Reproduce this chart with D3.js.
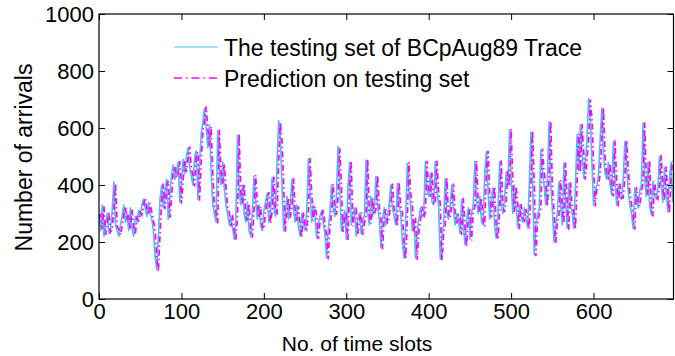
<!DOCTYPE html>
<html>
<head>
<meta charset="utf-8">
<script src="https://cdn.jsdelivr.net/npm/d3@7"></script>
<style>
  html, body { margin: 0; padding: 0; background: #fff; }
  svg { display: block; font-family: "Liberation Sans", Arial, sans-serif; }
</style>
</head>
<body>
<svg id="chart" width="675" height="356"></svg>
<script>
// ---- data (one value every 2 time slots) ----
const timeStep = 2;
const testingSet = [
300,240,330,220,270,300,230,250,310,410,260,240,220,260,290,
330,270,300,240,320,250,220,290,270,310,290,330,350,320,290,
340,300,280,240,150,105,220,350,400,320,380,420,280,360,440,
470,420,450,480,340,410,490,440,500,530,460,430,400,500,520,
350,480,580,620,670,600,530,610,450,330,300,270,590,450,400,
480,390,330,300,260,290,250,210,280,575,380,330,400,300,270,
340,240,220,300,430,350,280,330,260,240,310,340,370,270,300,
425,320,290,480,625,560,400,240,300,360,280,330,420,310,270,
330,250,220,300,260,240,310,490,380,270,330,290,215,260,290,
310,270,230,145,240,300,400,320,290,360,535,400,240,280,310,
210,390,480,260,300,320,220,280,300,230,260,300,488,300,260,
360,290,320,430,330,280,180,280,320,260,290,330,400,320,290,
260,406,330,300,200,143,270,476,380,330,240,280,143,230,280,
320,290,300,482,380,360,440,340,330,482,380,330,140,220,260,
423,300,280,330,400,310,260,300,280,230,350,260,190,280,320,
210,300,330,482,340,300,360,270,260,445,517,380,280,350,390,
250,213,300,482,330,300,350,445,400,593,420,300,400,330,250,
330,290,270,320,280,250,400,587,420,155,260,300,310,523,450,
400,330,420,622,400,318,200,260,300,412,330,260,476,340,248,
406,330,300,248,400,575,450,610,520,424,482,560,704,640,480,
330,380,400,435,560,669,505,440,420,480,400,365,552,420,330,
400,360,350,420,552,470,380,330,300,248,388,350,320,380,400,
617,420,360,480,330,295,410,360,355,390,500,400,340,460,380,
306,420,480,340
];
const prediction = [
285,295,245,325,225,265,305,235,245,315,405,255,245,225,255,
295,325,275,295,245,315,255,225,285,275,305,295,325,355,315,
295,335,305,275,245,145,96,225,345,405,315,385,415,285,355,
445,465,425,445,485,335,415,485,445,495,535,455,435,395,505,
515,345,485,585,625,675,595,535,605,445,325,305,265,595,445,
405,475,395,325,305,255,295,245,205,285,580,375,335,405,295,
275,335,245,215,305,435,345,285,325,255,245,305,345,375,265,
305,430,315,295,485,620,555,405,235,305,355,285,325,425,305,
275,325,255,215,305,255,245,305,495,375,275,325,295,210,265,
285,315,265,225,140,245,295,405,315,295,355,530,405,235,285,
305,205,395,485,255,305,315,225,275,305,225,265,295,490,295,
265,355,295,315,435,325,285,175,285,315,265,285,335,405,315,
295,255,410,325,305,195,140,275,480,375,335,235,285,138,235,
275,325,285,305,485,375,365,445,335,335,485,375,335,135,225,
255,425,295,285,335,405,305,265,295,285,225,355,255,185,285,
315,205,305,325,485,335,305,355,275,255,450,520,375,285,345,
395,245,208,305,487,325,305,345,450,395,598,415,305,395,335,
245,335,285,275,315,285,245,405,590,415,150,265,295,315,528,
445,405,325,425,625,395,313,195,265,295,417,325,265,480,335,
243,411,325,305,243,405,580,445,615,515,419,487,555,700,635,
475,325,385,395,440,565,672,500,435,425,475,395,360,557,415,
325,405,355,355,425,557,465,375,335,295,243,393,345,325,375,
405,620,415,365,485,325,290,415,355,350,395,505,395,345,465,
375,301,425,485
];
const xTicks = [0, 100, 200, 300, 400, 500, 600];
const yTicks = [0, 200, 400, 600, 800, 1000];
const xMax = 697;
const yMax = 1000;
const seriesNames = ["The testing set of BCpAug89 Trace", "Prediction on testing set"];
const seriesColors = ["#4dbdec", "#ff00ff"];

// ---- layout ----
const svg = d3.select("#chart");
const L = 99, R = 673.5, T = 14, B = 299;
const x = d3.scaleLinear().domain([0, xMax]).range([L, R]);
const y = d3.scaleLinear().domain([0, yMax]).range([B, T]);
const tickFont = 22, xTitleFont = 21, yTitleFont = 23, legendFont = 23;

svg.append("defs").append("clipPath").attr("id", "clip")
  .append("rect").attr("x", L).attr("y", T).attr("width", R - L).attr("height", B - T);

const line = d3.line()
  .x((d, i) => x(i * timeStep))
  .y(d => y(d));

const plot = svg.append("g").attr("clip-path", "url(#clip)");
plot.append("path").datum(testingSet)
  .attr("fill", "none").attr("stroke", seriesColors[0])
  .attr("stroke-width", 1.6).attr("stroke-linejoin", "round")
  .attr("d", line);
plot.append("path").datum(prediction)
  .attr("fill", "none").attr("stroke", seriesColors[1])
  .attr("stroke-width", 1.7).attr("stroke-dasharray", "6,3,1.5,3")
  .attr("d", line);

// ---- axes (box with inward ticks on all sides) ----
function styleAxis(g, withLabels) {
  g.select(".domain").remove();
  g.selectAll(".tick line").attr("stroke", "#000").attr("stroke-width", 1);
  g.selectAll(".tick text").attr("fill", "#000")
    .style("font-size", tickFont + "px").style("font-family", "'Liberation Sans', Arial, sans-serif");
  if (!withLabels) g.selectAll(".tick text").remove();
}
svg.append("g").attr("transform", `translate(0,${B})`)
  .call(d3.axisBottom(x).tickValues(xTicks).tickSizeInner(-6).tickSizeOuter(0).tickPadding(4).tickFormat(d3.format("d")))
  .call(g => styleAxis(g, true));
svg.append("g").attr("transform", `translate(0,${T})`)
  .call(d3.axisTop(x).tickValues(xTicks).tickSizeInner(-6).tickSizeOuter(0))
  .call(g => styleAxis(g, false));
svg.append("g").attr("transform", `translate(${L},0)`)
  .call(d3.axisLeft(y).tickValues(yTicks).tickSizeInner(-6).tickSizeOuter(0).tickPadding(5).tickFormat(d3.format("d")))
  .call(g => styleAxis(g, true));
svg.append("g").attr("transform", `translate(${R},0)`)
  .call(d3.axisRight(y).tickValues(yTicks).tickSizeInner(-6).tickSizeOuter(0))
  .call(g => styleAxis(g, false));

svg.append("rect").attr("x", L).attr("y", T).attr("width", R - L).attr("height", B - T)
  .attr("fill", "none").attr("stroke", "#000").attr("stroke-width", 1.2);

// ---- axis titles ----
svg.append("text").attr("x", 357).attr("y", 351).attr("text-anchor", "middle")
  .style("font-size", xTitleFont + "px").text("No. of time slots");
svg.append("text").attr("transform", `translate(32,${(T + B) / 2 + 1}) rotate(-90)`)
  .attr("text-anchor", "middle").style("font-size", yTitleFont + "px").text("Number of arrivals");

// ---- legend ----
const legend = svg.append("g");
const legRows = [47, 78];
seriesNames.forEach((name, i) => {
  const ln = legend.append("line").attr("x1", 174).attr("x2", 218)
    .attr("y1", legRows[i]).attr("y2", legRows[i])
    .attr("stroke", seriesColors[i]).attr("stroke-width", i === 0 ? 1.2 : 1.6);
  if (i === 1) ln.attr("stroke-dasharray", "8,4,1.5,4");
  legend.append("text").attr("x", 224).attr("y", legRows[i] + 9)
    .style("font-size", legendFont + "px").text(name);
});
</script>
</body>
</html>
